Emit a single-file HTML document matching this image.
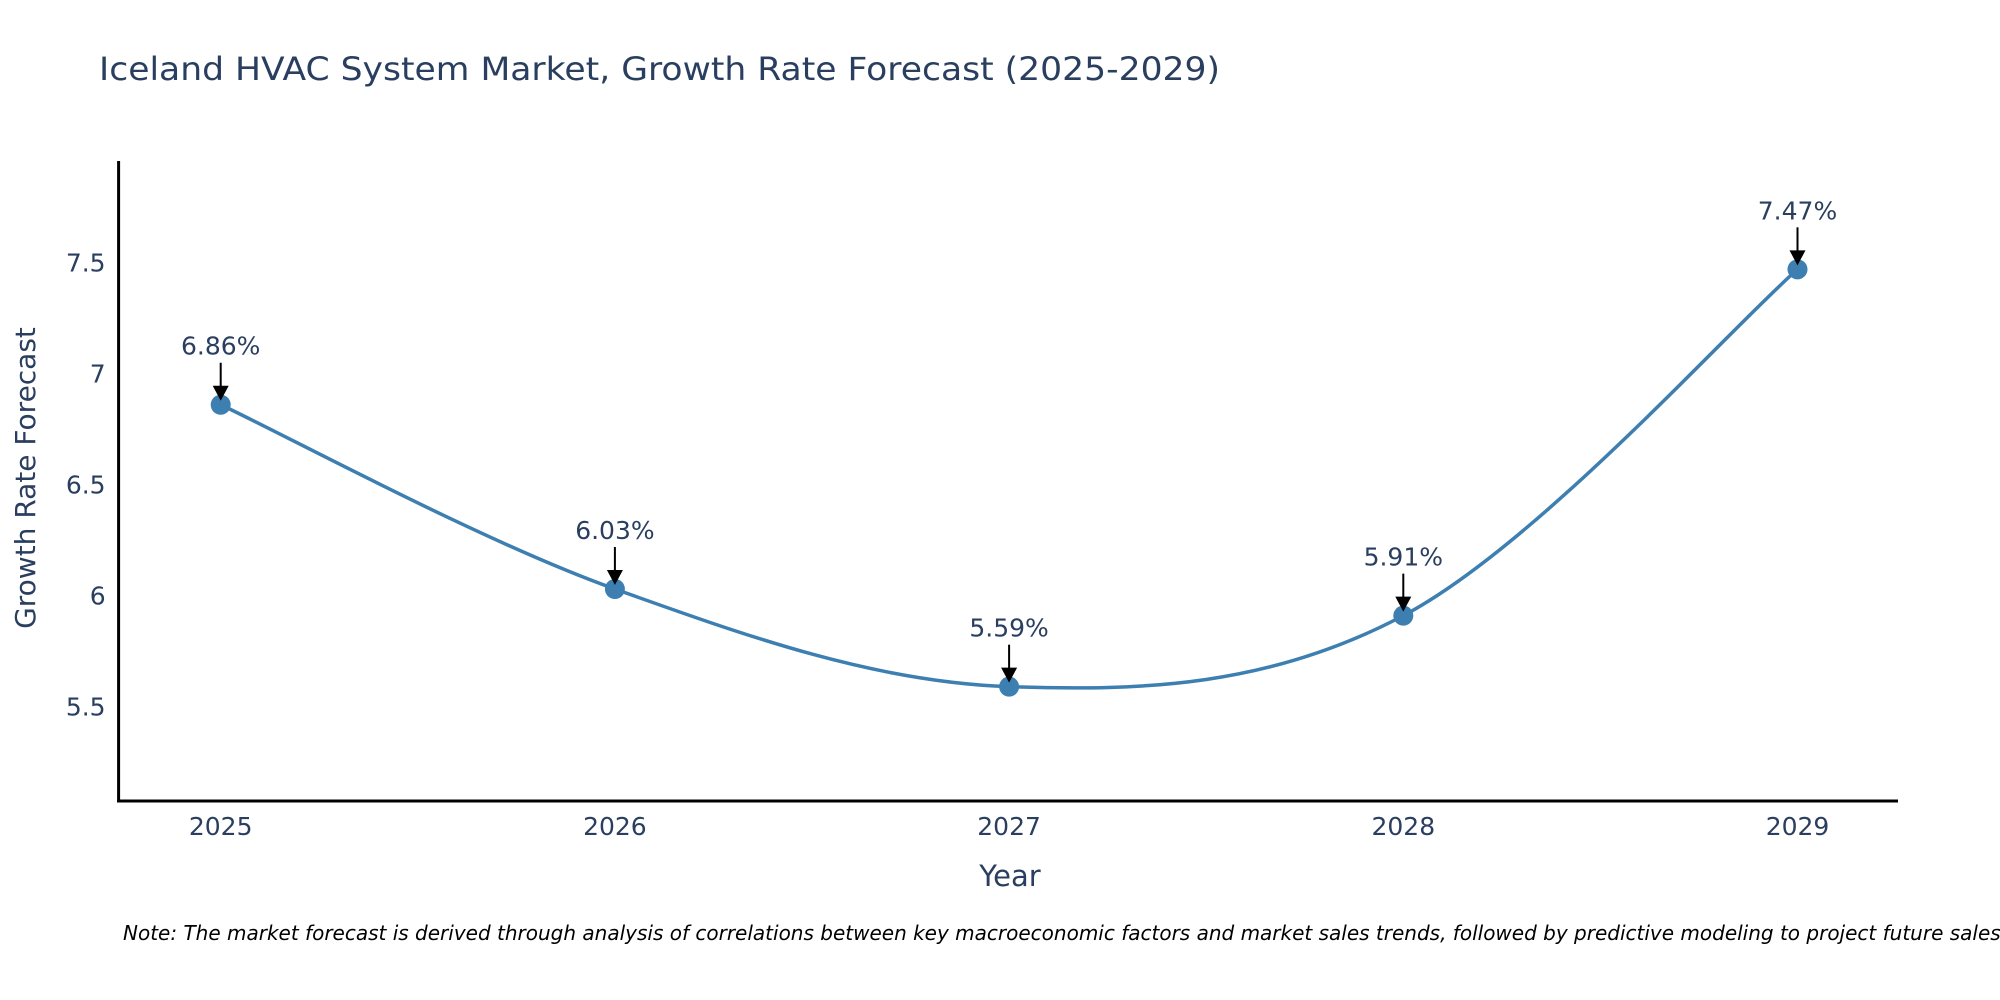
<!DOCTYPE html>
<html><head><meta charset="utf-8"><style>
html,body{margin:0;padding:0;background:#fff;}
svg{display:block;font-family:"DejaVu Sans","Liberation Sans",sans-serif;}
</style></head><body>
<svg id="chart" width="2000" height="1000" viewBox="0 0 2000 1000">
<rect width="2000" height="1000" fill="#fff"/>
<text x="99" y="80" font-size="32" fill="#2a3f5f" textLength="1121" lengthAdjust="spacingAndGlyphs">Iceland HVAC System Market, Growth Rate Forecast (2025-2029)</text>
<g id="plot"></g>
<text x="1010" y="886" font-size="29" fill="#2a3f5f" text-anchor="middle">Year</text>
<text transform="translate(35,478) rotate(-90)" font-size="28" fill="#2a3f5f" text-anchor="middle">Growth Rate Forecast</text>
<text x="123" y="940" font-size="20" font-style="italic" fill="#000">Note: The market forecast is derived through analysis of correlations between key macroeconomic factors and market sales trends, followed by predictive modeling to project future sales.</text>
</svg>
<script>
const years = [2025, 2026, 2027, 2028, 2029];
const rates = [6.86, 6.03, 5.59, 5.91, 7.47];
const yTicks = [5.5, 6, 6.5, 7, 7.5];
const yTickLabels = ["5.5", "6", "6.5", "7", "7.5"];

const NS = "http://www.w3.org/2000/svg";
const g = document.getElementById('plot');
const L = 118.6, R = 1898, T = 161, B = 801;
const yMin = 5.075, yMax = 7.958;
const xFirst = 220.7, xStep = 394.2;
function xs(i){ return xFirst + i * xStep; }
function ys(v){ return B - (v - yMin) / (yMax - yMin) * (B - T); }
function mk(tag, attrs){ const e = document.createElementNS(NS, tag); for (const k in attrs) e.setAttribute(k, attrs[k]); g.appendChild(e); return e; }

let ax = mk('line', {x1:L, y1:T, x2:L, y2:B+1.5, stroke:'#000', 'stroke-width':3});


ax = mk('line', {x1:L-1.5, y1:B, x2:R, y2:B, stroke:'#000', 'stroke-width':3});



yTicks.forEach((v, i) => {
  const t = mk('text', {x:L-13, y:ys(v)+9, 'font-size':25, fill:'#2a3f5f', 'text-anchor':'end'});
  t.textContent = yTickLabels[i];
  
  
});
years.forEach((yr, i) => {
  const t = mk('text', {x:xs(i), y:835, 'font-size':25, fill:'#2a3f5f', 'text-anchor':'middle'});
  t.textContent = String(yr);
  
  
});

const pts = rates.map((v, i) => [xs(i), ys(v)]);
let d = `M${pts[0][0]},${pts[0][1]}`;
const s = 0.17;
for (let i = 0; i < pts.length - 1; i++) {
  const p0 = pts[Math.max(0, i-1)], p1 = pts[i], p2 = pts[i+1], p3 = pts[Math.min(pts.length-1, i+2)];
  const c1 = [p1[0] + (p2[0]-p0[0])*s, p1[1] + (p2[1]-p0[1])*s];
  const c2 = [p2[0] - (p3[0]-p1[0])*s, p2[1] - (p3[1]-p1[1])*s];
  d += ` C${c1[0]},${c1[1]} ${c2[0]},${c2[1]} ${p2[0]},${p2[1]}`;
}
const line = mk('path', {d:d, fill:'none', stroke:'#3d7fb1', 'stroke-width':3.5});



pts.forEach((p, i) => {
  const c = mk('circle', {cx:p[0], cy:p[1], r:10, fill:'#3d7fb1'});
  
  
  const a = mk('line', {x1:p[0], y1:p[1]-42, x2:p[0], y2:p[1]-18, stroke:'#000', 'stroke-width':2});
  
  
  const h = mk('path', {d:`M${p[0]-8},${p[1]-19} L${p[0]+8},${p[1]-19} L${p[0]},${p[1]-4} Z`, fill:'#000'});
  
  
  const t = mk('text', {x:p[0], y:p[1]-50, 'font-size':25, fill:'#2a3f5f', 'text-anchor':'middle'});
  t.textContent = rates[i].toFixed(2) + '%';
  
  
});
</script>
</body></html>
